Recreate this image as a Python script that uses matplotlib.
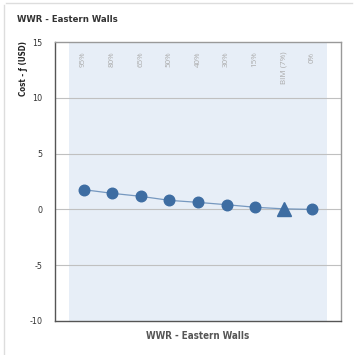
import matplotlib
matplotlib.use("Agg")
import matplotlib.pyplot as plt
from matplotlib.lines import Line2D

categories = ["95%", "80%", "65%", "50%", "40%", "30%", "15%", "BIM (7%)", "0%"]
values = [1.77, 1.44, 1.17, 0.81, 0.63, 0.42, 0.19, 0.05, 0.0]
markers = ["o", "o", "o", "o", "o", "o", "o", "^", "o"]
yticks = [-10, -5, 0, 5, 10, 15]
title = "WWR - Eastern Walls"
ylabel = "Cost - ƒ (USD)"

cond = dict(family="DejaVu Sans", stretch="condensed")

fig = plt.figure(figsize=(3.58, 3.55), dpi=100)
# card border
fig.add_artist(Line2D([4/358, 4/358], [0, 1 - 5/355], transform=fig.transFigure, color="#dddddd", lw=1))
fig.add_artist(Line2D([6/358, 352/358], [1 - 2.5/355, 1 - 2.5/355], transform=fig.transFigure, color="#dddddd", lw=1))

ax = fig.add_axes([55/358, 1 - 321/355, 286/358, 279/355])
n = len(categories)
xs = list(range(n))
ax.set_xlim(-1, n)
ax.set_ylim(-10, 15)
ax.axvspan(-0.5, n - 0.5, color="#e7eef7", zorder=0, lw=0)
for y in yticks:
    if y not in (-10, 15):
        ax.axhline(y, color="#c0c0c0", lw=0.8, zorder=1)
ax.plot(xs, values, color="#5a83b2", lw=0.9, alpha=0.8, zorder=2)
for x, v, m in zip(xs, values, markers):
    ax.plot([x], [v], marker=m, color="#3e6da2",
            markersize=9.5 if m == "^" else 7.6, zorder=3, lw=0)

for x, c in zip(xs, categories):
    ax.annotate(c, xy=(x, 15), xytext=(0, -7), textcoords="offset points",
                rotation=90, ha="center", va="top", color="#aaaaaa",
                fontsize=5.8, family="Open Sans")

ax.set_yticks(yticks)
ax.set_yticklabels([str(t) for t in yticks], fontsize=6.5, color="#333333", **cond)
ax.set_xticks([])
ax.tick_params(axis="y", length=0, pad=9)
for s in ["top", "right"]:
    ax.spines[s].set_color("#999999")
for s in ["left", "bottom"]:
    ax.spines[s].set_color("#555555")
for s in ax.spines.values():
    s.set_linewidth(1)

ax.set_xlabel(title, fontsize=7, fontweight="bold", color="#555555", labelpad=7, **cond)
fig.text(17/358, 1 - 19/355, title, fontsize=6.8, fontweight="bold", color="#333333",
         ha="left", va="center", **cond)
fig.text(24/358, 1 - 69/355, ylabel, fontsize=5.8, fontweight="bold", color="#222222",
         rotation=90, ha="center", va="center", **cond)

fig.savefig("out.png", dpi=100)
